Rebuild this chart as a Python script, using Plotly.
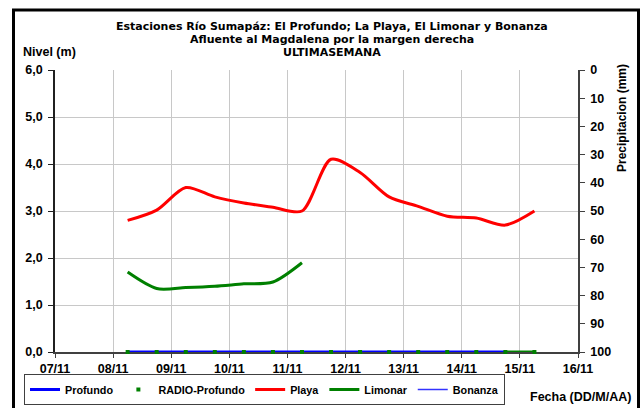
import plotly.graph_objects as go

# ---- data ----
times = ["2013-11-08 06:00", "2013-11-08 18:00", "2013-11-09 06:00", "2013-11-09 18:00",
         "2013-11-10 06:00", "2013-11-10 18:00", "2013-11-11 06:00", "2013-11-11 18:00",
         "2013-11-12 06:00", "2013-11-12 18:00", "2013-11-13 06:00", "2013-11-13 18:00",
         "2013-11-14 06:00", "2013-11-14 18:00", "2013-11-15 06:00"]
profundo = [0, 0, 0, 0, 0, 0, 0, 0, 0, 0, 0, 0, 0, 0, None]
radio_profundo = [0, 0, 0, 0, 0, 0, 0, 0, 0, 0, 0, 0, 0, 0, 0]
playa = [2.80, 3.02, 3.50, 3.30, 3.17, 3.08, 3.00, 4.10, 3.82, 3.30, 3.10, 2.89, 2.85, 2.70, 3.00]
limonar = [1.70, 1.35, 1.37, 1.40, 1.45, 1.49, 1.90, None, None, None, None, None, None, 0, 0]
bonanza = [0, 0, 0, 0, 0, 0, 0, 0, 0, 0, 0, 0, 0, 0, None]
precipitacion = [None] * 15

x_ticks = ["2013-11-07", "2013-11-08", "2013-11-09", "2013-11-10", "2013-11-11",
           "2013-11-12", "2013-11-13", "2013-11-14", "2013-11-15", "2013-11-16"]
y_ticks = [0, 1, 2, 3, 4, 5, 6]
y_labels = ["0,0", "1,0", "2,0", "3,0", "4,0", "5,0", "6,0"]
y2_ticks = [0, 10, 20, 30, 40, 50, 60, 70, 80, 90, 100]

title_lines = ["Estaciones Río Sumapáz: El Profundo; La Playa, El Limonar y Bonanza",
               "Afluente al Magdalena por la margen derecha",
               "ULTIMASEMANA"]

FONT = "Liberation Sans, Arial, sans-serif"
WIDE = "DejaVu Sans, Verdana, sans-serif"
TF = dict(size=12.5, family=FONT, weight="bold", color="black")

fig = go.Figure()
fig.add_trace(go.Scatter(x=times, y=bonanza, name="Bonanza", mode="lines",
                         line=dict(color="#3333ff", width=1.5), legendrank=5))
fig.add_trace(go.Scatter(x=times, y=profundo, name="Profundo", mode="lines",
                         line=dict(color="#0000ff", width=3), legendrank=1))
fig.add_trace(go.Scatter(x=times, y=radio_profundo, name="RADIO-Profundo", mode="markers",
                         marker=dict(color="#008000", size=4, symbol="square"),
                         cliponaxis=False, legendrank=2))
fig.add_trace(go.Scatter(x=times, y=playa, name="Playa", mode="lines",
                         line=dict(color="#ff0000", width=3, shape="spline", smoothing=0.8),
                         legendrank=3))
fig.add_trace(go.Scatter(x=times, y=limonar, name="Limonar", mode="lines",
                         line=dict(color="#008000", width=3, shape="spline", smoothing=0.8),
                         connectgaps=False, legendrank=4))
fig.add_trace(go.Scatter(x=times, y=precipitacion, yaxis="y2", showlegend=False,
                         mode="lines", hoverinfo="skip"))

L, R, T, B = 55, 64, 70, 56
PW, PH = 642 - L - R, 408 - T - B

def px(xp):
    return (xp - L) / PW

def py(yp):
    return (408 - B - yp) / PH

annotations = []
for line, yc in zip(title_lines, [26, 39, 52]):
    annotations.append(dict(text=line, xref="paper", yref="paper", x=px(332), y=py(yc),
                            xanchor="center", yanchor="middle", showarrow=False,
                            font=dict(size=11, family=WIDE, weight="bold")))
annotations += [
    dict(text="Nivel (m)", xref="paper", yref="paper", x=px(21), y=py(52),
         xanchor="left", yanchor="middle", showarrow=False,
         font=dict(size=12.5, family=FONT, weight="bold")),
    dict(text="Precipitacion (mm)", xref="paper", yref="paper", x=px(622), y=py(62),
         xanchor="center", yanchor="top", textangle=-90, showarrow=False,
         font=dict(size=12, family=FONT, weight="bold")),
    dict(text="Fecha (DD/M/AA)", xref="paper", yref="paper", x=px(633), y=py(397),
         xanchor="right", yanchor="middle", showarrow=False,
         font=dict(size=12.5, family=FONT, weight="bold")),
]

fig.update_layout(
    width=642, height=408,
    margin=dict(l=L, r=R, t=T, b=B, autoexpand=False),
    paper_bgcolor="white", plot_bgcolor="white",
    font=dict(family=FONT, size=11, color="black", weight="bold"),
    showlegend=True,
    legend=dict(orientation="h", x=px(24), y=py(389.5), xanchor="left", yanchor="middle",
                bordercolor="#404040", borderwidth=1, bgcolor="white",
                font=dict(size=10.8, family=FONT, weight="bold"),
                itemwidth=30, traceorder="normal"),
    xaxis=dict(type="date", range=["2013-11-07", "2013-11-16"],
               tickvals=x_ticks, tickformat="%d/%m",
               showgrid=True, gridcolor="#c8c8c8", gridwidth=1,
               showline=True, linecolor="#404040", linewidth=1.5,
               ticks="outside", ticklen=4, tickcolor="#404040",
               tickfont=TF, automargin=False, layer="below traces",
               zeroline=False),
    yaxis=dict(range=[0, 6], tickvals=y_ticks, ticktext=y_labels,
               showgrid=True, gridcolor="#c8c8c8", gridwidth=1,
               showline=True, linecolor="#202020", linewidth=1.5,
               ticks="outside", ticklen=5, tickcolor="#202020",
               tickfont=TF, automargin=False, ticklabelstandoff=3,
               layer="below traces", zeroline=False),
    yaxis2=dict(range=[100, 0], tickvals=y2_ticks, overlaying="y", side="right",
                showgrid=False, showline=True, linecolor="#404040", linewidth=1.5,
                ticks="outside", ticklen=5, tickcolor="#404040",
                tickfont=TF, automargin=False, ticklabelstandoff=3,
                zeroline=False),
    shapes=[dict(type="rect", xref="paper", yref="paper",
                 x0=px(13.5), x1=px(638.5), y0=py(420), y1=py(10),
                 line=dict(color="black", width=3), fillcolor="rgba(0,0,0,0)",
                 layer="below")],
    annotations=annotations,
)

fig.write_html("out.html", config={"displayModeBar": False},
               post_script="document.body.style.margin='0';document.body.style.overflow='hidden';")
